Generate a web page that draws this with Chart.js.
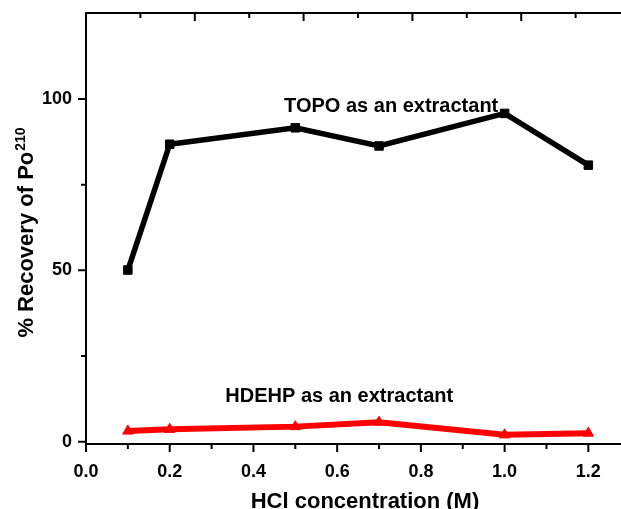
<!DOCTYPE html>
<html>
<head>
<meta charset="utf-8">
<script src="https://cdn.jsdelivr.net/npm/chart.js@4.4.1/dist/chart.umd.min.js"></script>
<style>
  body { margin: 0; background: #fff; }
  #wrap { width: 621px; height: 509px; position: relative; }
</style>
</head>
<body>
<div id="wrap"><canvas id="chart"></canvas></div>
<script>
// HCl concentration (M) and % recovery of Po-210
const hclConc = [0.1, 0.2, 0.5, 0.7, 1.0, 1.2];
const topoRecovery = [50.1, 86.8, 91.6, 86.3, 95.8, 80.7];
const hdehpRecovery = [3.1, 3.6, 4.4, 5.7, 2.0, 2.5];

const xMajorTicks = [0, 0.2, 0.4, 0.6, 0.8, 1.0, 1.2];
const xMinorTicks = [0.1, 0.3, 0.5, 0.7, 0.9, 1.1];
const yMajorTicks = [0, 50, 100];
const yMinorTicks = [25, 75];
const topMajorTicks = [1, 2, 3, 4];
const topMinorTicks = [0.5, 1.5, 2.5, 3.5, 4.5];

const notes = [
  { text: 'TOPO as an extractant', x: 0.729, y: 96.1 },
  { text: 'HDEHP as an extractant', x: 0.605, y: 11.5 }
];

const FONT = '"Liberation Sans", Arial, sans-serif';

// no extra label padding, keep the plot box where it is
function noPad(s) {
  s.paddingTop = 0; s.paddingBottom = 0; s.paddingLeft = 0; s.paddingRight = 0;
}

const decorations = {
  id: 'decorations',
  afterDraw(chart) {
    const ctx = chart.ctx;
    const { x, y, x2 } = chart.scales;
    const area = chart.chartArea;
    ctx.save();
    ctx.strokeStyle = '#000';
    ctx.lineWidth = 2;
    ctx.beginPath();
    // bottom ticks (outward)
    xMajorTicks.forEach(v => { const p = x.getPixelForValue(v); ctx.moveTo(p, area.bottom); ctx.lineTo(p, area.bottom + 8); });
    xMinorTicks.forEach(v => { const p = x.getPixelForValue(v); ctx.moveTo(p, area.bottom); ctx.lineTo(p, area.bottom + 5); });
    // left ticks (outward)
    yMajorTicks.forEach(v => { const p = y.getPixelForValue(v); ctx.moveTo(area.left, p); ctx.lineTo(area.left - 8, p); });
    yMinorTicks.forEach(v => { const p = y.getPixelForValue(v); ctx.moveTo(area.left, p); ctx.lineTo(area.left - 5, p); });
    // top ticks (inward)
    topMajorTicks.forEach(v => { const p = x2.getPixelForValue(v); ctx.moveTo(p, area.top); ctx.lineTo(p, area.top + 8); });
    topMinorTicks.forEach(v => { const p = x2.getPixelForValue(v); ctx.moveTo(p, area.top); ctx.lineTo(p, area.top + 5); });
    ctx.stroke();

    ctx.fillStyle = '#000';
    // annotations
    ctx.font = 'bold 20px ' + FONT;
    ctx.textAlign = 'center';
    ctx.textBaseline = 'alphabetic';
    notes.forEach(n => ctx.fillText(n.text, x.getPixelForValue(n.x), y.getPixelForValue(n.y)));

    // x title
    ctx.font = 'bold 22px ' + FONT;
    ctx.fillText('HCl concentration (M)', 365, 508);

    // y title with superscript
    const main = '% Recovery of Po';
    const sup = '210';
    ctx.font = 'bold 22px ' + FONT;
    const w1 = ctx.measureText(main).width;
    ctx.font = 'bold 14px ' + FONT;
    const w2 = ctx.measureText(sup).width;
    ctx.translate(33, 233);
    ctx.rotate(-Math.PI / 2);
    ctx.textAlign = 'left';
    const start = -(w1 + w2) / 2;
    ctx.font = 'bold 22px ' + FONT;
    ctx.fillText(main, start, 0);
    ctx.font = 'bold 14px ' + FONT;
    ctx.fillText(sup, start + w1 + 1, -8);
    ctx.restore();
  }
};

new Chart(document.getElementById('chart'), {
  type: 'line',
  data: {
    datasets: [
      {
        label: 'TOPO',
        data: hclConc.map((c, i) => ({ x: c, y: topoRecovery[i] })),
        borderColor: '#000',
        backgroundColor: '#000',
        borderWidth: 5.5,
        pointStyle: 'rect',
        pointRadius: 6,
        pointBorderWidth: 1,
        tension: 0
      },
      {
        label: 'HDEHP',
        data: hclConc.map((c, i) => ({ x: c, y: hdehpRecovery[i] })),
        borderColor: '#ff0000',
        backgroundColor: '#ff0000',
        borderWidth: 6,
        pointStyle: 'triangle',
        pointRadius: 6,
        pointBorderWidth: 1,
        tension: 0
      }
    ]
  },
  options: {
    responsive: true,
    maintainAspectRatio: false,
    devicePixelRatio: 1,
    animation: false,
    layout: { autoPadding: false, padding: { top: 13, right: 0, left: 0, bottom: 0 } },
    plugins: { legend: { display: false }, tooltip: { enabled: false } },
    scales: {
      x: {
        type: 'linear',
        min: 0,
        max: 1.278,
        grid: { display: false, drawTicks: false },
        border: { display: true, color: '#000', width: 2 },
        ticks: {
          color: '#000',
          font: { family: FONT, size: 18, weight: 'bold' },
          padding: 17,
          maxRotation: 0,
          callback: v => Number(v).toFixed(1)
        },
        afterBuildTicks: s => { s.ticks = xMajorTicks.map(v => ({ value: v })); },
        afterFit: s => { s.height = 65; noPad(s); }
      },
      x2: {
        type: 'linear',
        position: 'top',
        min: 0,
        max: 4.917,
        grid: { display: false, drawTicks: false },
        border: { display: true, color: '#000', width: 2 },
        ticks: { display: false },
        afterFit: s => { s.height = 0; noPad(s); }
      },
      y: {
        type: 'linear',
        min: -0.67,
        max: 125.1,
        grid: { display: false, drawTicks: false },
        border: { display: true, color: '#000', width: 2 },
        ticks: {
          color: '#000',
          font: { family: FONT, size: 18, weight: 'bold' },
          padding: 14
        },
        afterBuildTicks: s => { s.ticks = yMajorTicks.map(v => ({ value: v })); },
        afterFit: s => { s.width = 86; noPad(s); }
      }
    }
  },
  plugins: [decorations]
});
</script>
</body>
</html>
